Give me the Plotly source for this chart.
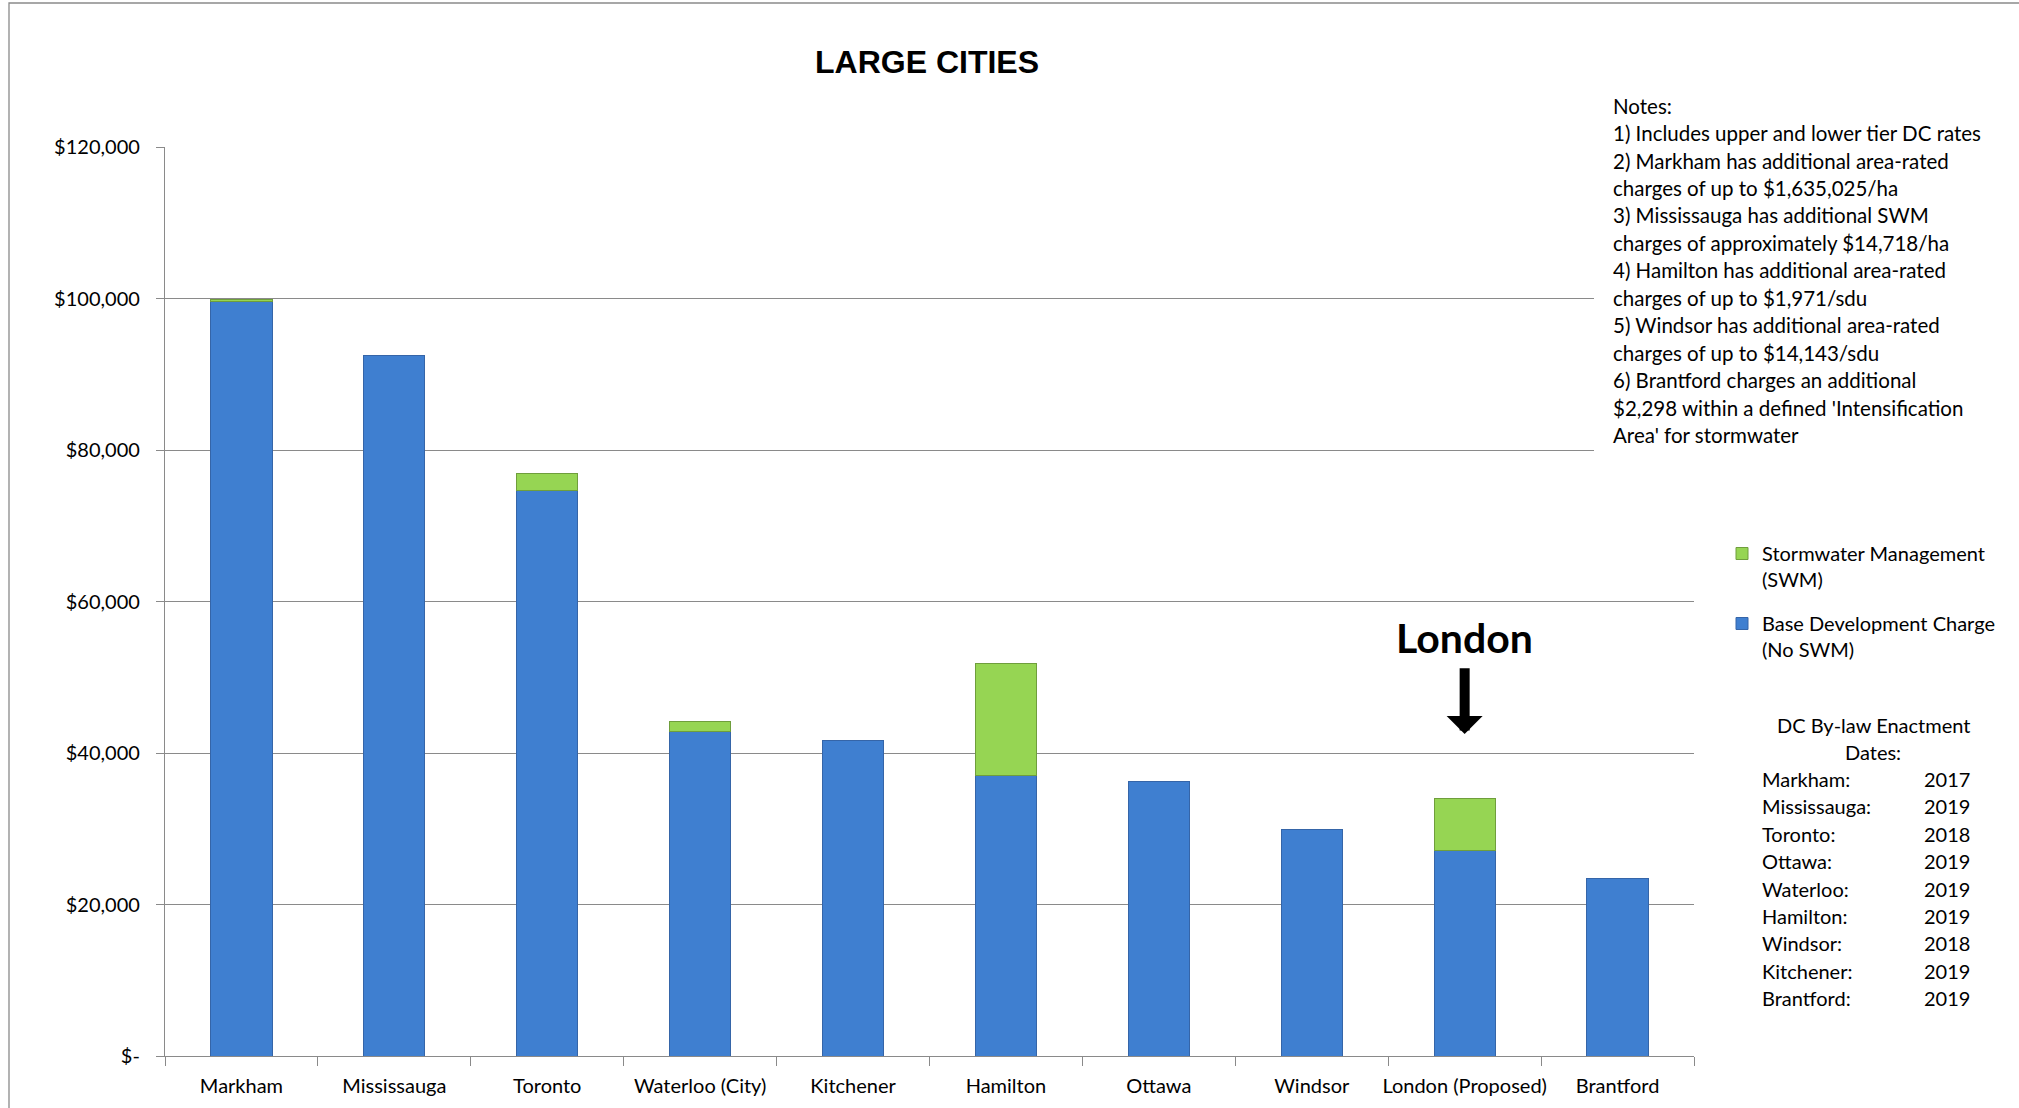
import plotly.graph_objects as go

# ---------------- data ----------------
cities = ["Markham", "Mississauga", "Toronto", "Waterloo (City)", "Kitchener",
          "Hamilton", "Ottawa", "Windsor", "London (Proposed)", "Brantford"]
base_dc = [99560, 92510, 74710, 42860, 41590, 37050, 36300, 29960, 27130, 23390]
swm_dc = [310, None, 2210, 1240, None, 14750, None, None, 6830, None]

y_tickvals = [0, 20000, 40000, 60000, 80000, 100000, 120000]
y_ticktext = ["$-", "$20,000", "$40,000", "$60,000", "$80,000", "$100,000", "$120,000"]

notes_lines = [
    "Notes:",
    "1) Includes upper and lower tier DC rates",
    "2) Markham has additional area-rated",
    "charges of up to $1,635,025/ha",
    "3) Mississauga has additional SWM",
    "charges of approximately $14,718/ha",
    "4) Hamilton has additional area-rated",
    "charges of up to $1,971/sdu",
    "5) Windsor has additional area-rated",
    "charges of up to $14,143/sdu",
    "6) Brantford charges an additional",
    "$2,298 within a defined 'Intensification",
    "Area' for stormwater",
]

enact_header = ["DC By-law Enactment", "Dates:"]
enact_cities = ["Markham:", "Mississauga:", "Toronto:", "Ottawa:", "Waterloo:",
                "Hamilton:", "Windsor:", "Kitchener:", "Brantford:"]
enact_years = ["2017", "2019", "2018", "2019", "2019", "2019", "2018", "2019", "2019"]

# ---------------- layout helpers ----------------
W, H = 2019, 1108
ML, MR, MT, MB = 165, 325, 147, 52
PW, PH = W - ML - MR, H - MT - MB


def px_x(px):
    return (px - ML) / PW


def px_y(py):
    return (H - MB - py) / PH


FONT = "Lato"
GRAY = "#8a8a8a"
FS = 20

fig = go.Figure()
fig.add_trace(go.Bar(
    x=cities, y=base_dc, name="Base Development Charge<br>(No SWM)",
    marker=dict(color="#3f7fd0", line=dict(color="#3565a8", width=1)),
    legendgroup="b", legendrank=2,
))
fig.add_trace(go.Bar(
    x=cities, y=swm_dc, name="Stormwater Management<br>(SWM)",
    marker=dict(color="#96d553", line=dict(color="#6f9e3c", width=1)),
    legendgroup="s", legendrank=1,
))

annotations = []
# Notes block
for i, line in enumerate(notes_lines):
    annotations.append(dict(
        text=line, x=px_x(1611), y=px_y(105.6 + i * 27.45), xref="paper", yref="paper",
        xanchor="left", yanchor="middle", showarrow=False,
        font=dict(family=FONT, size=20.5, color="black"),
    ))
# Enactment header
for i, line in enumerate(enact_header):
    annotations.append(dict(
        text=line, x=px_x(1873), y=px_y(725 + i * 27.2), xref="paper", yref="paper",
        xanchor="center", yanchor="middle", showarrow=False,
        font=dict(family=FONT, size=FS, color="black"),
    ))
for i, (c, yr) in enumerate(zip(enact_cities, enact_years)):
    yy = px_y(779 + i * 27.4)
    annotations.append(dict(
        text=c, x=px_x(1760), y=yy, xref="paper", yref="paper",
        xanchor="left", yanchor="middle", showarrow=False,
        font=dict(family=FONT, size=FS, color="black"),
    ))
    annotations.append(dict(
        text=yr, x=px_x(1922), y=yy, xref="paper", yref="paper",
        xanchor="left", yanchor="middle", showarrow=False,
        font=dict(family=FONT, size=FS, color="black"),
    ))

# London callout
annotations.append(dict(
    text="<b>London</b>", x="London (Proposed)", y=55300, xref="x", yref="y",
    xanchor="center", yanchor="middle", showarrow=False,
    font=dict(family=FONT, size=41, color="black"),
))
annotations.append(dict(
    text="", x="London (Proposed)", y=42500, xref="x", yref="y",
    ax="London (Proposed)", ay=51400, axref="x", ayref="y",
    showarrow=True, arrowhead=1, arrowsize=0.6, arrowwidth=10, arrowcolor="black",
    standoff=0, startstandoff=0,
))

shapes = [
    # white box behind notes (covers gridlines)
    dict(type="rect", xref="paper", yref="paper", x0=px_x(1594), x1=1.3,
         y0=px_y(453), y1=1.001, fillcolor="white", line=dict(width=0), layer="above"),
    # outer chart border
    dict(type="rect", xref="paper", yref="paper", x0=px_x(9), x1=px_x(2100),
         y0=px_y(1200), y1=px_y(3), fillcolor="rgba(0,0,0,0)",
         line=dict(color=GRAY, width=1.3), layer="below"),
]

fig.update_layout(
    width=W, height=H,
    margin=dict(l=ML, r=MR, t=MT, b=MB, autoexpand=False),
    paper_bgcolor="white", plot_bgcolor="white",
    barmode="stack", bargap=0.6,
    font=dict(family=FONT, size=FS, color="black"),
    title=dict(text="<b>LARGE CITIES</b>", x=927 / W, xanchor="center",
               y=1 - 62 / H, yanchor="middle",
               font=dict(family="Liberation Sans, Arial", size=32, color="black")),
    legend=dict(x=px_x(1722), y=px_y(534), xanchor="left", yanchor="top",
                font=dict(family=FONT, size=FS, color="black"),
                traceorder="grouped",
                tracegroupgap=15, itemwidth=30, valign="top",
                bgcolor="rgba(0,0,0,0)"),
    annotations=annotations,
    shapes=shapes,
    xaxis=dict(showline=True, linecolor=GRAY, linewidth=1.3, ticks="outside",
               tickson="boundaries", ticklen=9, tickcolor=GRAY, tickwidth=1.3,
               tickangle=0, automargin=False, ticklabelstandoff=12,
               showgrid=False, tickfont=dict(family=FONT, size=FS, color="black")),
    yaxis=dict(range=[0, 120000], tickvals=y_tickvals, ticktext=y_ticktext,
               showline=True, linecolor=GRAY, linewidth=1.3, ticks="outside",
               ticklen=8, tickcolor=GRAY, tickwidth=1.3, ticklabelstandoff=12,
               automargin=False,
               showgrid=True, gridcolor=GRAY, gridwidth=1.3, zeroline=False,
               tickfont=dict(family=FONT, size=FS, color="black")),
)

fig.write_html("out.html", post_script="document.body.style.margin='0';",
               config={"displayModeBar": False})
